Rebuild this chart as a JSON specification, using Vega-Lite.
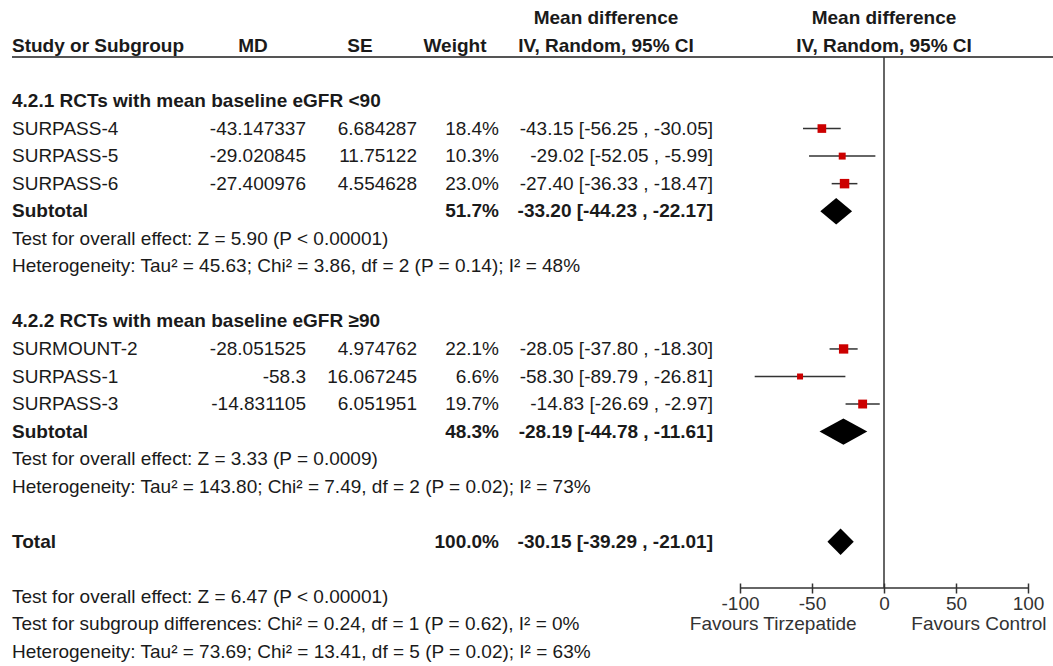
{
  "$schema": "https://vega.github.io/schema/vega-lite/v6.json",
  "width": 1053,
  "height": 666,
  "padding": 0,
  "autosize": "none",
  "background": "white",
  "config": {
    "view": {"stroke": null},
    "text": {"font": "Liberation Sans", "fontSize": 19, "color": "#1a1a1a", "baseline": "middle"}
  },
  "datasets": {
    "headers": [
      {"row": -3, "col": 7, "text": "Mean difference"},
      {"row": -2, "col": 7, "text": "IV, Random, 95% CI"},
      {"row": -2, "col": 1, "text": "MD"},
      {"row": -2, "col": 3, "text": "SE"},
      {"row": -2, "col": 5, "text": "Weight"},
      {"row": -2, "col": 0, "text": "Study or Subgroup"}
    ],
    "forest_header": [
      {"row": -3, "text": "Mean difference"},
      {"row": -2, "text": "IV, Random, 95% CI"}
    ],
    "groups": [
      {"row": 0, "label": "4.2.1 RCTs with mean baseline eGFR <90"},
      {"row": 8, "label": "4.2.2 RCTs with mean baseline eGFR ≥90"}
    ],
    "studies": [
      {"row": 1, "study": "SURPASS-4", "md_txt": "-43.147337", "se_txt": "6.684287", "w_txt": "18.4%", "ci_txt": "-43.15 [-56.25 , -30.05]", "md": -43.15, "lo": -56.25, "hi": -30.05, "weight": 18.4},
      {"row": 2, "study": "SURPASS-5", "md_txt": "-29.020845", "se_txt": "11.75122", "w_txt": "10.3%", "ci_txt": "-29.02 [-52.05 , -5.99]", "md": -29.02, "lo": -52.05, "hi": -5.99, "weight": 10.3},
      {"row": 3, "study": "SURPASS-6", "md_txt": "-27.400976", "se_txt": "4.554628", "w_txt": "23.0%", "ci_txt": "-27.40 [-36.33 , -18.47]", "md": -27.40, "lo": -36.33, "hi": -18.47, "weight": 23.0},
      {"row": 9, "study": "SURMOUNT-2", "md_txt": "-28.051525", "se_txt": "4.974762", "w_txt": "22.1%", "ci_txt": "-28.05 [-37.80 , -18.30]", "md": -28.05, "lo": -37.80, "hi": -18.30, "weight": 22.1},
      {"row": 10, "study": "SURPASS-1", "md_txt": "-58.3", "se_txt": "16.067245", "w_txt": "6.6%", "ci_txt": "-58.30 [-89.79 , -26.81]", "md": -58.30, "lo": -89.79, "hi": -26.81, "weight": 6.6},
      {"row": 11, "study": "SURPASS-3", "md_txt": "-14.831105", "se_txt": "6.051951", "w_txt": "19.7%", "ci_txt": "-14.83 [-26.69 , -2.97]", "md": -14.83, "lo": -26.69, "hi": -2.97, "weight": 19.7}
    ],
    "summaries": [
      {"row": 4, "label": "Subtotal", "w_txt": "51.7%", "ci_txt": "-33.20 [-44.23 , -22.17]", "est": -33.20, "lo": -44.23, "hi": -22.17},
      {"row": 12, "label": "Subtotal", "w_txt": "48.3%", "ci_txt": "-28.19 [-44.78 , -11.61]", "est": -28.19, "lo": -44.78, "hi": -11.61},
      {"row": 16, "label": "Total", "w_txt": "100.0%", "ci_txt": "-30.15 [-39.29 , -21.01]", "est": -30.15, "lo": -39.29, "hi": -21.01}
    ],
    "notes": [
      {"row": 5, "label": "Test for overall effect: Z = 5.90 (P < 0.00001)"},
      {"row": 6, "label": "Heterogeneity: Tau² = 45.63; Chi² = 3.86, df = 2 (P = 0.14); I² = 48%"},
      {"row": 13, "label": "Test for overall effect: Z = 3.33 (P = 0.0009)"},
      {"row": 14, "label": "Heterogeneity: Tau² = 143.80; Chi² = 7.49, df = 2 (P = 0.02); I² = 73%"},
      {"row": 18, "label": "Test for overall effect: Z = 6.47 (P < 0.00001)"},
      {"row": 19, "label": "Test for subgroup differences: Chi² = 0.24, df = 1 (P = 0.62), I² = 0%"},
      {"row": 20, "label": "Heterogeneity: Tau² = 73.69; Chi² = 13.41, df = 5 (P = 0.02); I² = 63%"}
    ],
    "favours": [
      {"side": "left", "label": "Favours Tirzepatide"},
      {"side": "right", "label": "Favours Control"}
    ],
    "frame": [{"part": "frame"}]
  },
  "layer": [
    {
      "layer": [
        {
          "data": {"name": "frame"},
          "mark": {"type": "rule", "stroke": "#555", "strokeWidth": 2},
          "encoding": {
            "x": {"datum": 0, "type": "quantitative", "scale": {"domain": [0, 1, 2, 3, 4, 5, 6, 7, 8, 9], "range": [12, 253, 306, 360, 417, 455, 499, 606, 713, 1053]}, "axis": null},
            "x2": {"datum": 9},
            "y": {"datum": -1.6, "type": "quantitative", "scale": {"domain": [0, 20], "range": [101, 652]}, "axis": null}
          }
        },
        {
          "data": {"name": "headers"},
          "transform": [{"filter": "datum.col > 0"}],
          "mark": {"type": "text", "align": "center", "fontWeight": "bold"},
          "encoding": {
            "x": {"field": "col", "type": "quantitative"},
            "y": {"field": "row", "type": "quantitative"},
            "text": {"field": "text"}
          }
        },
        {
          "data": {"name": "headers"},
          "transform": [{"filter": "datum.col == 0"}],
          "mark": {"type": "text", "align": "left", "fontWeight": "bold"},
          "encoding": {
            "x": {"field": "col", "type": "quantitative"},
            "y": {"field": "row", "type": "quantitative"},
            "text": {"field": "text"}
          }
        },
        {
          "data": {"name": "groups"},
          "mark": {"type": "text", "align": "left", "fontWeight": "bold"},
          "encoding": {
            "x": {"datum": 0, "type": "quantitative"},
            "y": {"field": "row", "type": "quantitative"},
            "text": {"field": "label"}
          }
        },
        {
          "data": {"name": "studies"},
          "mark": {"type": "text", "align": "left"},
          "encoding": {
            "x": {"datum": 0, "type": "quantitative"},
            "y": {"field": "row", "type": "quantitative"},
            "text": {"field": "study"}
          }
        },
        {
          "data": {"name": "studies"},
          "mark": {"type": "text", "align": "right"},
          "encoding": {
            "x": {"datum": 2, "type": "quantitative"},
            "y": {"field": "row", "type": "quantitative"},
            "text": {"field": "md_txt"}
          }
        },
        {
          "data": {"name": "studies"},
          "mark": {"type": "text", "align": "right"},
          "encoding": {
            "x": {"datum": 4, "type": "quantitative"},
            "y": {"field": "row", "type": "quantitative"},
            "text": {"field": "se_txt"}
          }
        },
        {
          "data": {"name": "studies"},
          "mark": {"type": "text", "align": "right"},
          "encoding": {
            "x": {"datum": 6, "type": "quantitative"},
            "y": {"field": "row", "type": "quantitative"},
            "text": {"field": "w_txt"}
          }
        },
        {
          "data": {"name": "studies"},
          "mark": {"type": "text", "align": "right"},
          "encoding": {
            "x": {"datum": 8, "type": "quantitative"},
            "y": {"field": "row", "type": "quantitative"},
            "text": {"field": "ci_txt"}
          }
        },
        {
          "data": {"name": "summaries"},
          "mark": {"type": "text", "align": "left", "fontWeight": "bold"},
          "encoding": {
            "x": {"datum": 0, "type": "quantitative"},
            "y": {"field": "row", "type": "quantitative"},
            "text": {"field": "label"}
          }
        },
        {
          "data": {"name": "summaries"},
          "mark": {"type": "text", "align": "right", "fontWeight": "bold"},
          "encoding": {
            "x": {"datum": 6, "type": "quantitative"},
            "y": {"field": "row", "type": "quantitative"},
            "text": {"field": "w_txt"}
          }
        },
        {
          "data": {"name": "summaries"},
          "mark": {"type": "text", "align": "right", "fontWeight": "bold"},
          "encoding": {
            "x": {"datum": 8, "type": "quantitative"},
            "y": {"field": "row", "type": "quantitative"},
            "text": {"field": "ci_txt"}
          }
        },
        {
          "data": {"name": "notes"},
          "mark": {"type": "text", "align": "left"},
          "encoding": {
            "x": {"datum": 0, "type": "quantitative"},
            "y": {"field": "row", "type": "quantitative"},
            "text": {"field": "label"}
          }
        }
      ]
    },
    {
      "layer": [
        {
          "data": {"name": "studies"},
          "mark": {"type": "rule", "stroke": "#333", "strokeWidth": 1.5},
          "encoding": {
            "x": {
              "field": "lo", "type": "quantitative",
              "scale": {"domain": [-100, 100], "range": [740, 1028], "nice": false, "zero": false},
              "axis": {
                "values": [-100, -50, 0, 50, 100],
                "labelExpr": "datum.value < 0 ? '-' + abs(datum.value) : '' + datum.value",
                "domain": false, "grid": false, "title": null,
                "orient": "bottom", "offset": -83,
                "tickSize": 10, "tickColor": "#333", "tickWidth": 1.5,
                "labelFont": "Liberation Sans", "labelFontSize": 19, "labelColor": "#333",
                "labelPadding": 1, "labelFlush": false
              }
            },
            "x2": {"field": "hi"},
            "y": {"field": "row", "type": "quantitative", "scale": {"domain": [0, 20], "range": [101, 652]}, "axis": null}
          }
        },
        {
          "data": {"name": "frame"},
          "mark": {"type": "rule", "stroke": "#333", "strokeWidth": 1.5},
          "encoding": {
            "x": {"datum": 0, "type": "quantitative"},
            "y": {"datum": -1.6, "type": "quantitative"},
            "y2": {"datum": 17.68}
          }
        },
        {
          "data": {"name": "frame"},
          "mark": {"type": "rule", "stroke": "#333", "strokeWidth": 1.5},
          "encoding": {
            "x": {"datum": -100, "type": "quantitative"},
            "x2": {"datum": 100},
            "y": {"datum": 17.68, "type": "quantitative"}
          }
        },
        {
          "data": {"name": "studies"},
          "mark": {"type": "point", "shape": "square", "filled": true, "color": "#cc0000", "opacity": 1},
          "encoding": {
            "x": {"field": "md", "type": "quantitative"},
            "y": {"field": "row", "type": "quantitative"},
            "size": {"field": "weight", "type": "quantitative", "scale": {"domain": [6.6, 23], "range": [36, 90], "zero": false}, "legend": null}
          }
        },
        {
          "data": {"name": "summaries"},
          "transform": [
            {"fold": ["lo", "est", "hi"], "as": ["k", "v"]},
            {"calculate": "datum.k == 'est' ? 0.48 : 0", "as": "h"},
            {"calculate": "datum.row - datum.h", "as": "ytop"},
            {"calculate": "datum.row + datum.h", "as": "ybot"}
          ],
          "mark": {"type": "area", "orient": "vertical", "color": "black", "opacity": 1, "interpolate": "linear"},
          "encoding": {
            "x": {"field": "v", "type": "quantitative"},
            "y": {"field": "ytop", "type": "quantitative"},
            "y2": {"field": "ybot"},
            "detail": {"field": "row", "type": "nominal"}
          }
        },
        {
          "data": {"name": "forest_header"},
          "mark": {"type": "text", "align": "center", "fontWeight": "bold"},
          "encoding": {
            "x": {"datum": 0, "type": "quantitative"},
            "y": {"field": "row", "type": "quantitative"},
            "text": {"field": "text"}
          }
        },
        {
          "data": {"name": "favours"},
          "transform": [{"filter": "datum.side == 'left'"}],
          "mark": {"type": "text", "align": "right", "color": "#333"},
          "encoding": {
            "x": {"datum": -19, "type": "quantitative"},
            "y": {"datum": 19, "type": "quantitative"},
            "text": {"field": "label"}
          }
        },
        {
          "data": {"name": "favours"},
          "transform": [{"filter": "datum.side == 'right'"}],
          "mark": {"type": "text", "align": "left", "color": "#333"},
          "encoding": {
            "x": {"datum": 19, "type": "quantitative"},
            "y": {"datum": 19, "type": "quantitative"},
            "text": {"field": "label"}
          }
        }
      ]
    }
  ],
  "resolve": {"scale": {"x": "independent"}, "axis": {"x": "independent"}}
}
